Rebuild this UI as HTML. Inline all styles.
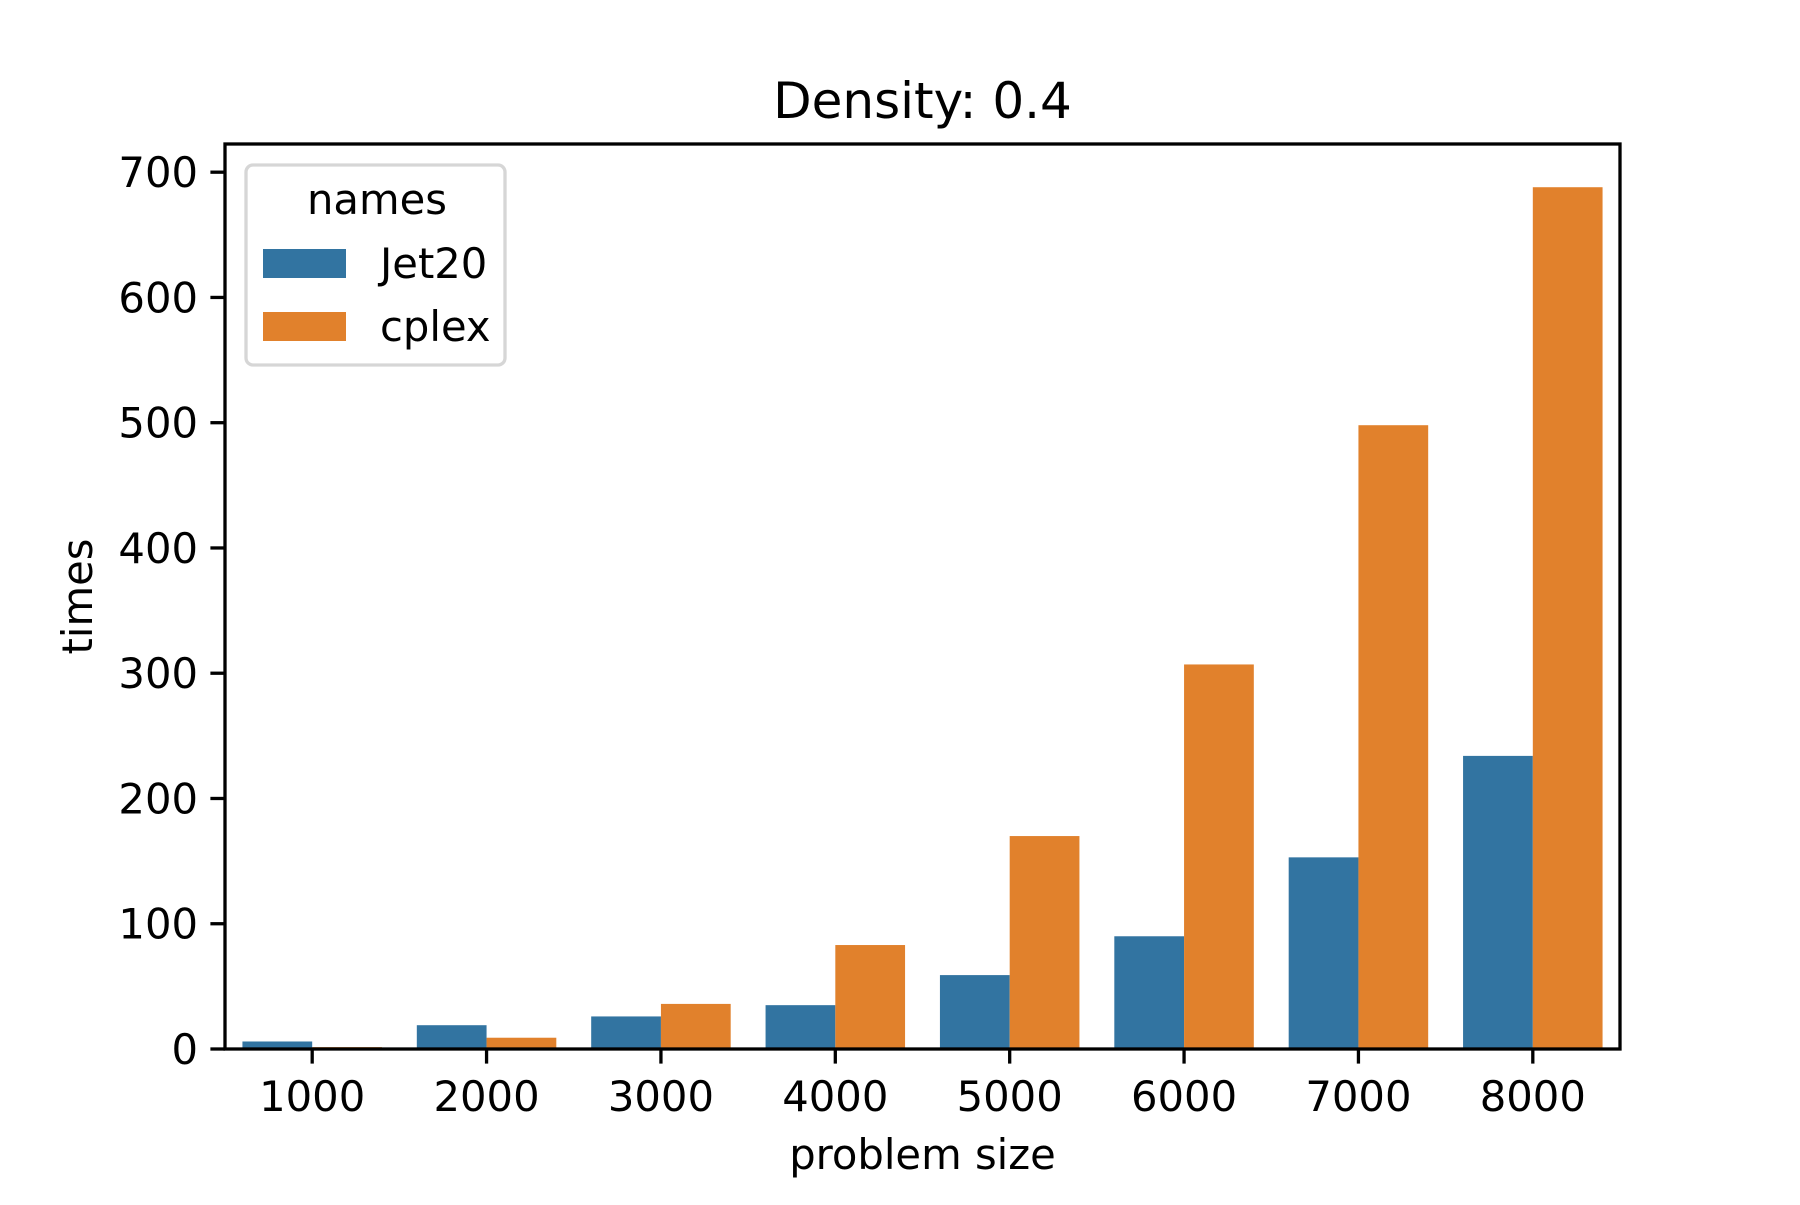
<!DOCTYPE html>
<html><head><meta charset="utf-8"><style>
html,body{margin:0;padding:0;background:#fff;}
svg text{font-family:"DejaVu Sans","Liberation Sans",sans-serif;fill:#000;}
</style></head><body>
<svg id="chart" width="1800" height="1200" viewBox="0 0 1800 1200" xmlns="http://www.w3.org/2000/svg">
<rect width="1800" height="1200" fill="#fff"/>
<g id="bars"></g>
<g id="axes"></g>
</svg>
<script>
const categories = ["1000","2000","3000","4000","5000","6000","7000","8000"];
const jet20 = [6, 19, 26, 35, 59, 90, 153, 234];
const cplex = [1.5, 9, 36, 83, 170, 307, 498, 688];
const yTicks = [0, 100, 200, 300, 400, 500, 600, 700];
const seriesNames = ["Jet20", "cplex"];

const NS = "http://www.w3.org/2000/svg";
const L = 225, R = 1620, T = 144, B = 1049;
const yMax = 722.5;
const bandW = (R - L) / categories.length;
function xCenter(i){ return L + bandW * (i + 0.5); }
function yPos(v){ return B - (v / yMax) * (B - T); }
function mk(tag, attrs, parent){
  const e = document.createElementNS(NS, tag);
  for (const k in attrs) e.setAttribute(k, attrs[k]);
  parent.appendChild(e);
  return e;
}
const bars = document.getElementById('bars');
const axes = document.getElementById('axes');
const colors = ["#3274a1", "#e1812c"];
const bw = bandW * 0.4;
[jet20, cplex].forEach((series, s) => {
  series.forEach((v, i) => {
    const x = xCenter(i) + (s === 0 ? -bw : 0);
    const r = mk('rect', {x: x, y: yPos(v), width: bw, height: B - yPos(v), fill: colors[s]}, bars);
    
    
  });
});
// spines
const frame = mk('rect', {x: L, y: T, width: R - L, height: B - T, fill: 'none', stroke: '#000', 'stroke-width': 3.3}, axes);


// y ticks
yTicks.forEach(t => {
  const y = yPos(t);
  const ln = mk('line', {x1: L - 14.6, x2: L, y1: y, y2: y, stroke: '#000', 'stroke-width': 3.3}, axes);
  
  
  const tx = mk('text', {x: L - 27, y: y + 15, 'text-anchor': 'end', 'font-size': 41.7}, axes);
  tx.textContent = t;
  
  
});
// x ticks
categories.forEach((c, i) => {
  const x = xCenter(i);
  const ln = mk('line', {x1: x, x2: x, y1: B, y2: B + 14.6, stroke: '#000', 'stroke-width': 3.3}, axes);
  
  
  const tx = mk('text', {x: x, y: B + 62, 'text-anchor': 'middle', 'font-size': 41.7}, axes);
  tx.textContent = c;
  
  
});
// labels
const title = mk('text', {x: (L + R) / 2, y: 118, 'text-anchor': 'middle', 'font-size': 50}, axes);
title.textContent = 'Density: 0.4';


const xl = mk('text', {x: (L + R) / 2, y: 1169, 'text-anchor': 'middle', 'font-size': 41.7}, axes);
xl.textContent = 'problem size';


const yl = mk('text', {x: 0, y: 0, 'text-anchor': 'middle', 'font-size': 41.7, transform: 'translate(92,' + ((T + B) / 2) + ') rotate(-90)'}, axes);
yl.textContent = 'times';


// legend
const lg = mk('g', {}, axes);


const lbox = mk('rect', {x: 246, y: 165, width: 259, height: 200, rx: 7, fill: '#fff', 'fill-opacity': 0.8, stroke: '#d6d6d6', 'stroke-width': 3.3}, lg);


const lt = mk('text', {x: 377, y: 214, 'text-anchor': 'middle', 'font-size': 41.7}, lg);
lt.textContent = 'names';


seriesNames.forEach((n, s) => {
  const py = 249 + s * 63;
  const p = mk('rect', {x: 263, y: py, width: 83, height: 29, fill: colors[s]}, lg);
  
  
  const t = mk('text', {x: 380, y: py + 29, 'font-size': 41.7}, lg);
  t.textContent = n;
  
  
});
</script>
</body></html>
